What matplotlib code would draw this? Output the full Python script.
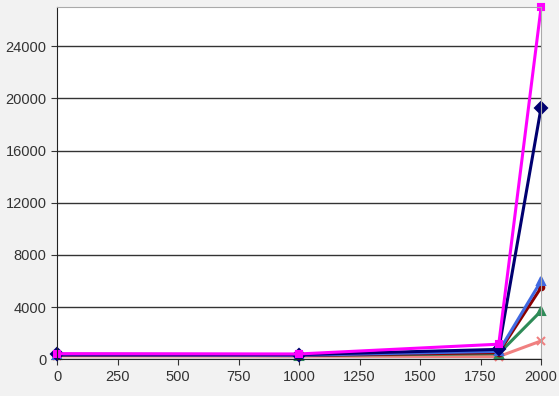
import numpy as np
import matplotlib.pyplot as plt

plt.rcParams['font.family'] = ['Liberation Sans', 'DejaVu Sans']

# Dados
anos = [0, 1000, 1825, 2000]
serie_magenta = [420, 400, 1150, 27000]
serie_marinho = [380, 350, 750, 19300]
serie_azul = [330, 300, 600, 6000]
serie_vinho = [300, 280, 500, 5500]
serie_verde = [300, 280, 420, 3700]
serie_salmao = [250, 230, 200, 1400]

series = [
    (serie_salmao, '#f08080', 'x', 6),
    (serie_verde, '#2e8b57', '^', 6),
    (serie_vinho, '#8b0000', 'o', 4),
    (serie_azul, '#4169e1', '^', 6),
    (serie_marinho, '#000070', 'D', 6),
    (serie_magenta, '#ff00ff', 's', 5),
]

fig = plt.figure(figsize=(5.59, 3.96), dpi=100, facecolor='#f2f2f2')
ax = fig.add_axes([0.102, 0.093, 0.866, 0.889])
ax.set_facecolor('white')

for valores, cor, marcador, tam in series:
    ax.plot(anos, valores, color=cor, marker=marcador, markersize=tam,
            linewidth=2.2, markeredgewidth=1.5, clip_on=False)

ax.set_xlim(0, 2000)
ax.set_ylim(0, 27000)
ax.set_xticks(np.arange(0, 2001, 250))
ax.set_yticks(np.arange(0, 24001, 4000))
ax.yaxis.grid(True, color='#333333', linewidth=1)
ax.set_axisbelow(True)
ax.tick_params(labelsize=10.5, colors='#333333', length=4)
for lado in ['top', 'right']:
    ax.spines[lado].set_color('#aaaaaa')
for lado in ['left', 'bottom']:
    ax.spines[lado].set_color('#222222')

fig.savefig('out.png', dpi=100, facecolor=fig.get_facecolor())
